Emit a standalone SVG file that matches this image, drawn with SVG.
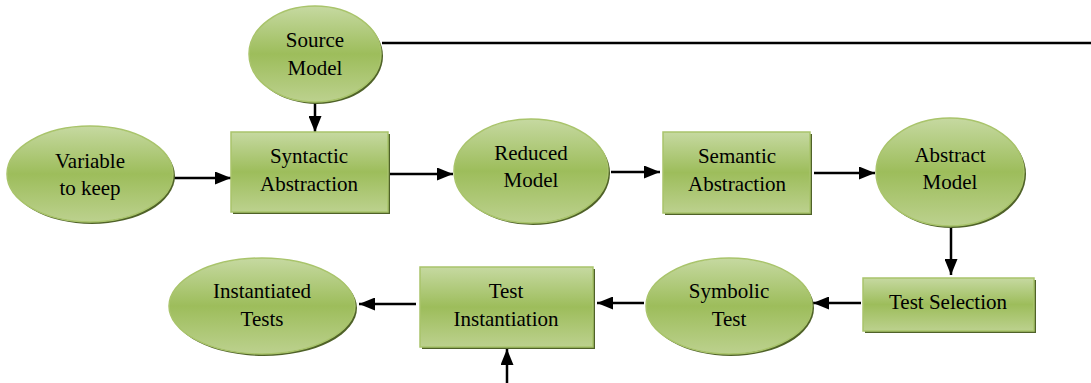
<svg xmlns="http://www.w3.org/2000/svg" width="1091" height="383" viewBox="0 0 1091 383">
<defs>
<linearGradient id="g" x1="0" y1="0" x2="0" y2="1">
<stop offset="0" stop-color="#c6d9a1"/>
<stop offset="0.5" stop-color="#9dbd5b"/>
<stop offset="1" stop-color="#bcd18e"/>
</linearGradient>
<marker id="ah" viewBox="0 0 16 13" refX="16" refY="6.5" markerWidth="16" markerHeight="13" markerUnits="userSpaceOnUse" orient="auto">
<path d="M0,0 L16,6.5 L0,13 Z" fill="#000"/>
</marker>
<style>
.sh{fill:#4f6228}
.n{fill:url(#g);stroke:#a9c46b;stroke-width:1.5}
text{font-family:"Liberation Serif","Times New Roman",serif;font-size:21px;fill:#000;text-anchor:middle}
.c{stroke:#000;stroke-width:2.5;fill:none}
.a{marker-end:url(#ah)}
</style>
</defs>
<rect width="1091" height="383" fill="#fff"/>
<g id="connectors">
<line class="c" x1="382" y1="43" x2="1091" y2="43"/>
<line class="c a" x1="315" y1="103" x2="315" y2="132"/>
<line class="c a" x1="174" y1="178" x2="231" y2="178"/>
<line class="c a" x1="389" y1="174" x2="453" y2="174"/>
<line class="c a" x1="611" y1="172" x2="660" y2="172"/>
<line class="c a" x1="814" y1="173" x2="875" y2="173"/>
<line class="c a" x1="951" y1="228" x2="951" y2="275"/>
<line class="c a" x1="861" y1="303" x2="813" y2="303"/>
<line class="c a" x1="644" y1="303" x2="597" y2="303"/>
<line class="c a" x1="416" y1="304" x2="359" y2="304"/>
<line class="c a" x1="507" y1="383" x2="507" y2="349"/>
</g>
<g id="source-model">
<ellipse class="sh" cx="317" cy="56" rx="66" ry="48"/>
<ellipse class="n" cx="315" cy="54" rx="66" ry="48"/>
<text x="315" y="47">Source</text>
<text x="315" y="75">Model</text>
</g>
<g id="variable-to-keep">
<ellipse class="sh" cx="92" cy="176" rx="83" ry="48"/>
<ellipse class="n" cx="90" cy="174" rx="83" ry="48"/>
<text x="90" y="168">Variable</text>
<text x="90" y="195">to keep</text>
</g>
<g id="syntactic-abstraction">
<rect class="sh" x="233" y="134" width="157" height="80"/>
<rect class="n" x="231" y="132" width="157" height="80"/>
<text x="309" y="163">Syntactic</text>
<text x="309" y="191">Abstraction</text>
</g>
<g id="reduced-model">
<ellipse class="sh" cx="533" cy="173" rx="77" ry="52"/>
<ellipse class="n" cx="531" cy="171" rx="77" ry="52"/>
<text x="531" y="160">Reduced</text>
<text x="531" y="187">Model</text>
</g>
<g id="semantic-abstraction">
<rect class="sh" x="665" y="134" width="147" height="81"/>
<rect class="n" x="663" y="132" width="147" height="81"/>
<text x="737" y="163">Semantic</text>
<text x="737" y="191">Abstraction</text>
</g>
<g id="abstract-model">
<ellipse class="sh" cx="952" cy="174" rx="74" ry="54"/>
<ellipse class="n" cx="950" cy="172" rx="74" ry="54"/>
<text x="950" y="162">Abstract</text>
<text x="950" y="189">Model</text>
</g>
<g id="test-selection">
<rect class="sh" x="865" y="280" width="171" height="53"/>
<rect class="n" x="863" y="278" width="171" height="53"/>
<text x="948" y="309">Test Selection</text>
</g>
<g id="symbolic-test">
<ellipse class="sh" cx="731" cy="308" rx="83" ry="48"/>
<ellipse class="n" cx="729" cy="306" rx="83" ry="48"/>
<text x="729" y="298">Symbolic</text>
<text x="729" y="326">Test</text>
</g>
<g id="test-instantiation">
<rect class="sh" x="422" y="269" width="173" height="80"/>
<rect class="n" x="420" y="267" width="173" height="80"/>
<text x="506" y="298">Test</text>
<text x="506" y="326">Instantiation</text>
</g>
<g id="instantiated-tests">
<ellipse class="sh" cx="264" cy="308" rx="93" ry="48"/>
<ellipse class="n" cx="262" cy="306" rx="93" ry="48"/>
<text x="262" y="298">Instantiated</text>
<text x="262" y="326">Tests</text>
</g>
</svg>
